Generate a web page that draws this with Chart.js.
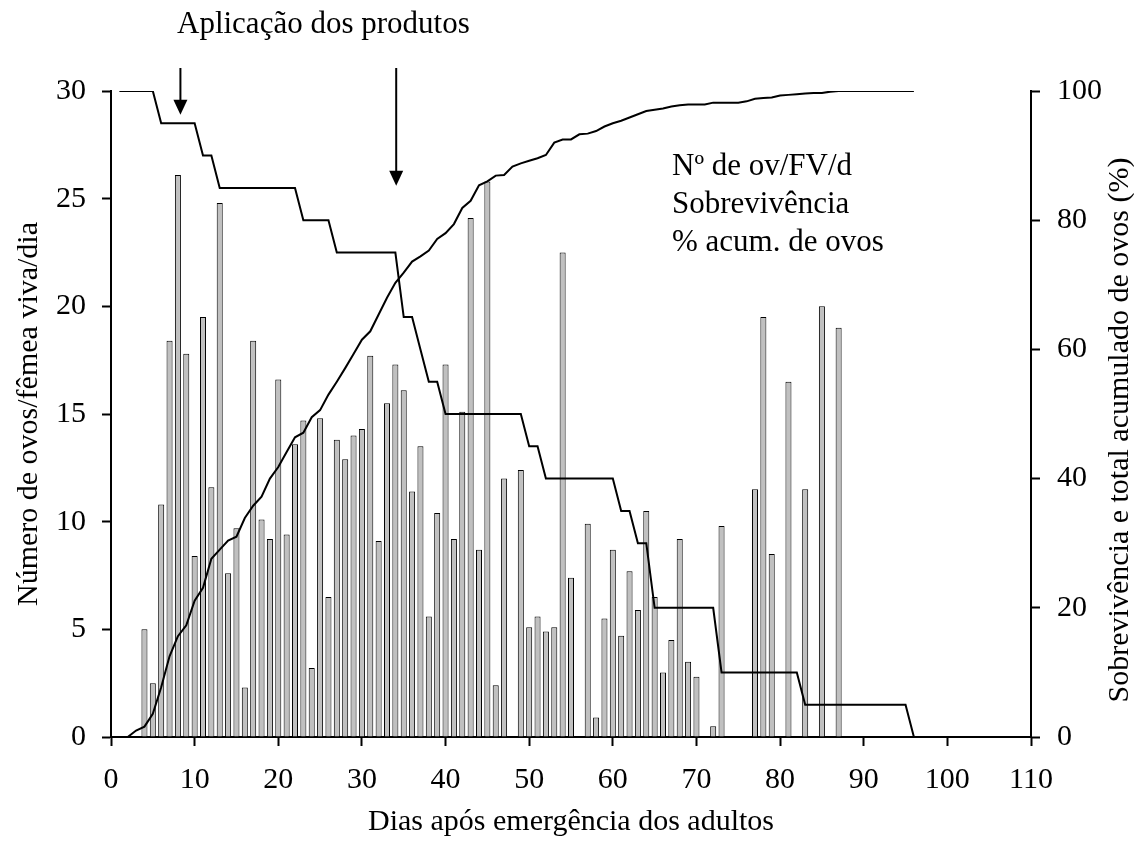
<!DOCTYPE html>
<html>
<head>
<meta charset="utf-8">
<script src="https://cdn.jsdelivr.net/npm/chart.js@4/dist/chart.umd.min.js"></script>
<style>
body { margin: 0; background: #fff; }
</style>
</head>
<body>
<canvas id="myChart" width="1134" height="859"></canvas>
<script>
// Eggs per living female per day (bars, left axis)
var eggDays = [4, 5, 6, 7, 8, 9, 10, 11, 12, 13, 14, 15, 16, 17, 18, 19, 20, 21, 22, 23,
    24, 25, 26, 27, 28, 29, 30, 31, 32, 33, 34, 35, 36, 37, 38, 39, 40, 41, 42, 43,
    44, 45, 46, 47, 49, 50, 51, 52, 53, 54, 55, 57, 58, 59, 60, 61, 62, 63, 64, 65,
    66, 67, 68, 69, 70, 72, 73, 77, 78, 79, 81, 83, 85, 87];
var eggsPerFemale = [5.0, 2.5, 10.8, 18.4, 26.1, 17.8, 8.4, 19.5, 11.6, 24.8, 7.6, 9.7, 2.3, 18.4, 10.1, 9.2, 16.6, 9.4, 13.6, 14.7,
    3.2, 14.8, 6.5, 13.8, 12.9, 14.0, 14.3, 17.7, 9.1, 15.5, 17.3, 16.1, 11.4, 13.5, 5.6, 10.4, 17.3, 9.2, 15.1, 24.1,
    8.7, 25.8, 2.4, 12.0, 12.4, 5.1, 5.6, 4.9, 5.1, 22.5, 7.4, 9.9, 0.9, 5.5, 8.7, 4.7, 7.7, 5.9, 10.5, 6.5,
    3.0, 4.5, 9.2, 3.5, 2.8, 0.5, 9.8, 11.5, 19.5, 8.5, 16.5, 11.5, 20.0, 19.0];

// Survival (%), right axis
var survDays = [1, 5, 6, 10, 11, 12, 13, 22, 23, 26, 27, 34, 35, 36, 37, 38, 39, 40, 49, 50,
    51, 52, 60, 61, 62, 63, 64, 65, 72, 73, 82, 83, 95, 96];
var survival = [100, 100, 95, 95, 90, 90, 85, 85, 80, 80, 75, 75, 65, 65, 60, 55, 55, 50, 50, 45,
    45, 40, 40, 35, 35, 30, 30, 20, 20, 10, 10, 5, 5, 0];

// Accumulated % of eggs, one value per day starting at day 2
var cumStartDay = 2;
var cumEggs = [0, 1.0, 1.6, 3.6, 7.7, 12.5, 15.6, 17.3, 21.1, 23.1, 27.6, 29.0, 30.4, 31.0, 33.9, 35.8, 37.2, 40.0, 41.8,
    44.1, 46.4, 47.1, 49.5, 50.6, 53.0, 55.0, 57.1, 59.3, 61.5, 62.8, 65.4, 68.0, 70.3, 71.9, 73.6, 74.4, 75.3, 77.1,
    78.0, 79.4, 81.9, 83.0, 85.4, 86.0, 86.9, 87.0, 88.3, 88.8, 89.2, 89.6, 90.1, 92.0, 92.5, 92.5, 93.3, 93.4, 93.8,
    94.5, 95.0, 95.4, 95.9, 96.4, 96.9, 97.1, 97.3, 97.6, 97.8, 97.9, 97.9, 97.9, 98.2, 98.2, 98.2, 98.2, 98.4, 98.8,
    98.9, 99.0, 99.3, 99.4, 99.5, 99.6, 99.7, 99.7, 99.9, 100, 100, 100, 100, 100, 100, 100, 100, 100, 100];

// Product application arrows (day, arrow tip on left axis)
var applicationDays = [8.3, 34.1];
var arrowTips = [28.9, 25.6];
var applicationLabel = 'Aplicação dos produtos';
var rightTitle = 'Sobrevivência e total acumulado de ovos (%)';

var FONT = 'Liberation Serif';

function pairs(xs, ys) {
    return xs.map(function (x, i) { return { x: x, y: ys[i] }; });
}

// arrows, legend text and the right axis title (reads upwards, unlike Chart.js default)
var annotations = {
    id: 'annotations',
    afterDraw: function (chart) {
        var ctx = chart.ctx;
        var x = chart.scales.x, y = chart.scales.y;
        ctx.save();
        ctx.fillStyle = '#000';
        ctx.strokeStyle = '#000';
        ctx.lineWidth = 2;
        applicationDays.forEach(function (d, i) {
            var px = x.getPixelForValue(d);
            var tip = y.getPixelForValue(arrowTips[i]);
            ctx.beginPath();
            ctx.moveTo(px, 68);
            ctx.lineTo(px, tip - 12);
            ctx.stroke();
            ctx.beginPath();
            ctx.moveTo(px - 7, tip - 15);
            ctx.lineTo(px + 7, tip - 15);
            ctx.lineTo(px, tip);
            ctx.closePath();
            ctx.fill();
        });
        ctx.font = '31px "' + FONT + '"';
        ctx.textAlign = 'left';
        ctx.textBaseline = 'alphabetic';
        ctx.fillText(applicationLabel, 177, 33);

        chart.data.datasets.forEach(function (ds, i) {
            ctx.fillText(ds.label, 672, 175 + i * 38);
        });

        ctx.font = '30px "' + FONT + '"';
        ctx.translate(1120, 430);
        ctx.rotate(-Math.PI / 2);
        ctx.textAlign = 'center';
        ctx.textBaseline = 'middle';
        ctx.fillText(rightTitle, 0, 0);
        ctx.restore();
    }
};

var axisLook = {
    grid: { drawOnChartArea: false, drawTicks: true, tickLength: 9, tickColor: '#000', tickWidth: 2 },
    border: { display: true, color: '#000', width: 2 }
};

var ctx = document.getElementById('myChart').getContext('2d');
var myChart = new Chart(ctx, {
    type: 'bar',
    data: {
        datasets: [{
            label: 'Nº de ov/FV/d',
            data: pairs(eggDays, eggsPerFemale),
            backgroundColor: '#c0c0c0',
            borderColor: '#000',
            borderWidth: 1,
            barPercentage: 0.72,
            categoryPercentage: 1,
            yAxisID: 'y',
            order: 2
        }, {
            type: 'line',
            label: 'Sobrevivência',
            data: pairs(survDays, survival),
            borderColor: '#000',
            borderWidth: 2,
            pointRadius: 0,
            tension: 0,
            fill: false,
            yAxisID: 'y1',
            order: 1
        }, {
            type: 'line',
            label: '% acum. de ovos',
            data: cumEggs.map(function (v, i) { return { x: cumStartDay + i, y: v }; }),
            borderColor: '#000',
            borderWidth: 2,
            pointRadius: 0,
            tension: 0,
            fill: false,
            yAxisID: 'y1',
            order: 1
        }]
    },
    options: {
        responsive: false,
        animation: false,
        devicePixelRatio: 1,
        layout: { padding: { top: 91, left: 0, right: 0, bottom: 0 } },
        plugins: { legend: { display: false }, tooltip: { enabled: false } },
        scales: {
            x: Object.assign({
                type: 'linear',
                min: 0,
                max: 110,
                offset: false,
                ticks: { stepSize: 10, color: '#000', padding: 16, font: { family: FONT, size: 30 } },
                title: {
                    display: true,
                    text: 'Dias após emergência dos adultos',
                    color: '#000',
                    font: { family: FONT, size: 30 },
                    padding: { top: 0, bottom: 19 }
                },
                afterFit: function (s) { s.height = 122; }
            }, axisLook, { grid: Object.assign({}, axisLook.grid, { offset: false }) }),
            y: Object.assign({
                position: 'left',
                min: 0,
                max: 30,
                ticks: { stepSize: 5, color: '#000', padding: 16, font: { family: FONT, size: 30 } },
                title: {
                    display: true,
                    text: 'Número de ovos/fêmea viva/dia',
                    color: '#000',
                    font: { family: FONT, size: 30 },
                    padding: { top: 11, bottom: 0 }
                },
                afterFit: function (s) { s.width = 111; }
            }, axisLook),
            y1: Object.assign({
                position: 'right',
                min: 0,
                max: 100,
                ticks: { stepSize: 20, color: '#000', padding: 17, font: { family: FONT, size: 30 } },
                afterFit: function (s) { s.width = 103; }
            }, axisLook)
        }
    },
    plugins: [annotations]
});
</script>
</body>
</html>
